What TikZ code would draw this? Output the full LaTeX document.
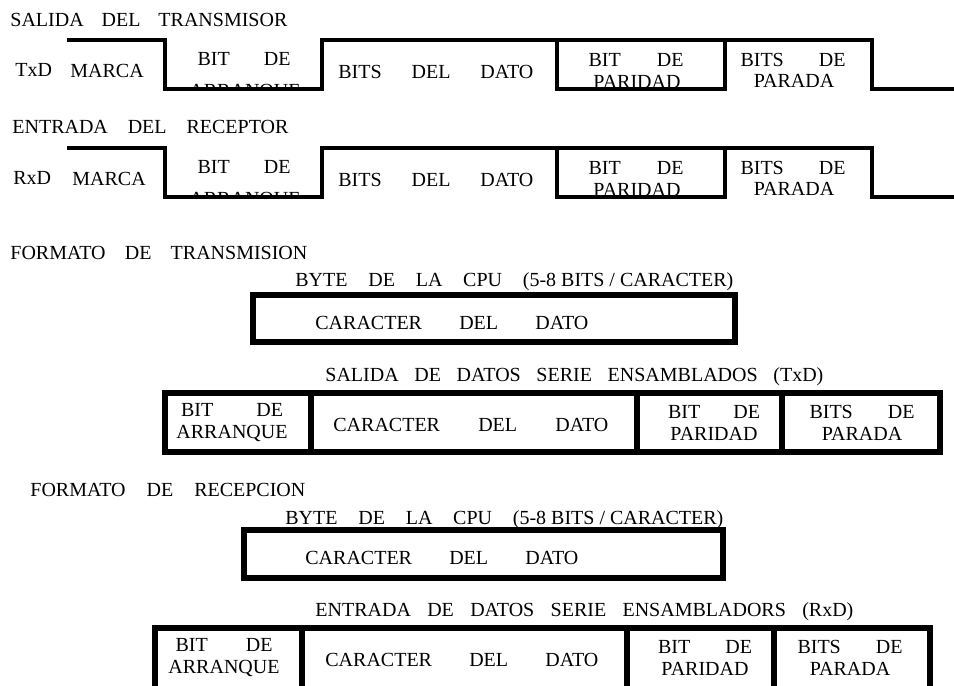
\documentclass[tikz,border=0pt]{standalone}
\usepackage{fontspec}
\setmainfont{Liberation Serif}
\usetikzlibrary{positioning}

\newlength\upx
\setlength\upx{0.5pt}
\newcommand\lbfont{\fontsize{10}{11}\selectfont}
% spread a line of words over a given width (in px)
\newcommand\wtext[2]{\makebox[#1\upx][s]{#2}}

\tikzset{
  lbl/.style={inner sep=0pt, font=\lbfont},
  wave/.style={line width=2.4pt, line join=miter},
  frame/.style={line width=2.6pt}
}

\begin{document}
\begin{tikzpicture}[x=0.5pt, y=-0.5pt]
        \useasboundingbox (0,0) rectangle (954,686);
        \clip (0,0) rectangle (954,686);

        % ---- SALIDA DEL TRANSMISOR ----
        \coordinate (T0) at (67,40);
        \coordinate (T1) at (165,40);
        \coordinate (T2) at (165,89);
        \coordinate (T3) at (322,89);
        \coordinate (T4) at (322,40);
        \coordinate (T5) at (872,40);
        \coordinate (T6) at (872,89);
        \coordinate (T7) at (954,89);
        \coordinate (TP1) at (557,40); % paridad
        \coordinate (TP2) at (725,40);

        \node[lbl, anchor=west] (ttx) at (10,20) {\wtext{277}{SALIDA DEL TRANSMISOR}};
        \node[lbl, anchor=west] (txd) at (15,70) {TxD};
        \node[lbl, anchor=west] (txmarca) at (70,71) {MARCA};
        \node[lbl] (txbit) at (244,59) {\wtext{93}{BIT DE}};
        \begin{scope}
          \clip (165,40) rectangle (322,89);
          \node[lbl] (txarr) at (245,92) {ARRANQUE};
        \end{scope}
        \node[lbl, anchor=west] (txdato) at (338,72) {\wtext{195}{BITS DEL DATO}};
        \node[lbl] (txpbit) at (636,60) {\wtext{95}{BIT DE}};
        \node[lbl] (txpar) at (637,82) {PARIDAD};
        \node[lbl] (txsbit) at (793,60) {\wtext{105}{BITS DE}};
        \node[lbl] (txstop) at (794,81) {PARADA};

        \draw[wave] (T0) -- (T1) -- (T2) -- (T3) -- (T4) -- (T5) -- (T6) -- (T7);
        \draw[wave] (TP1) -- (TP1 |- T2) -- (TP2 |- T2) -- (TP2);

        % ---- ENTRADA DEL RECEPTOR (108 px lower) ----
        \coordinate (R0) at (67,148);
        \coordinate (R1) at (165,148);
        \coordinate (R2) at (165,197);
        \coordinate (R3) at (322,197);
        \coordinate (R4) at (322,148);
        \coordinate (R5) at (872,148);
        \coordinate (R6) at (872,197);
        \coordinate (R7) at (954,197);
        \coordinate (RP1) at (557,148);
        \coordinate (RP2) at (725,148);

        \node[lbl, anchor=west] (trx) at (12,127) {\wtext{276}{ENTRADA DEL RECEPTOR}};
        \node[lbl, anchor=west] (rxd) at (13,178) {RxD};
        \node[lbl, anchor=west] (rxmarca) at (72,179) {MARCA};
        \node[lbl] (rxbit) at (244,167) {\wtext{93}{BIT DE}};
        \begin{scope}
          \clip (165,148) rectangle (322,197);
          \node[lbl] (rxarr) at (245,200) {ARRANQUE};
        \end{scope}
        \node[lbl, anchor=west] (rxdato) at (338,180) {\wtext{195}{BITS DEL DATO}};
        \node[lbl] (rxpbit) at (636,168) {\wtext{95}{BIT DE}};
        \node[lbl] (rxpar) at (637,190) {PARIDAD};
        \node[lbl] (rxsbit) at (793,168) {\wtext{105}{BITS DE}};
        \node[lbl] (rxstop) at (794,189) {PARADA};

        \draw[wave] (R0) -- (R1) -- (R2) -- (R3) -- (R4) -- (R5) -- (R6) -- (R7);
        \draw[wave] (RP1) -- (RP1 |- R2) -- (RP2 |- R2) -- (RP2);

        % ---- FORMATO DE TRANSMISION ----
        \node[lbl, anchor=west] (ftx) at (10,253) {\wtext{297}{FORMATO DE TRANSMISION}};
        \node[lbl, anchor=west] (ftxcpu) at (295,282) {\wtext{438}{BYTE DE LA CPU \mbox{(5-8 BITS / CARACTER)}}};
        \draw[frame] (253,295) rectangle (735,342);
        \node[lbl, anchor=west] (ftxcar) at (315,323) {\wtext{273}{CARACTER DEL DATO}};

        \node[lbl, anchor=west] (ftxser) at (325,377) {\wtext{498}{SALIDA DE DATOS SERIE ENSAMBLADOS (TxD)}};
        \draw[frame] (165,393) rectangle (940,452);
        \draw[frame] (311,393) -- (311,452);
        \draw[frame] (637,393) -- (637,452);
        \draw[frame] (782,393) -- (782,452);
        \node[lbl, align=center] (ftxarr) at (232,423) {\wtext{102}{BIT DE}\\ARRANQUE};
        \node[lbl, anchor=west] (ftxdat) at (333,425) {\wtext{275}{CARACTER DEL DATO}};
        \node[lbl, align=center] (ftxpar) at (714,423) {\wtext{92}{BIT DE}\\PARIDAD};
        \node[lbl, align=center] (ftxstop) at (862,423) {\wtext{105}{BITS DE}\\PARADA};

        % ---- FORMATO DE RECEPCION ----
        \node[lbl, anchor=west] (frx) at (30,490) {\wtext{275}{FORMATO DE RECEPCION}};
        \node[lbl, anchor=west] (frxcpu) at (285,520) {\wtext{438}{BYTE DE LA CPU \mbox{(5-8 BITS / CARACTER)}}};
        \draw[frame] (244,530) rectangle (723,578);
        \node[lbl, anchor=west] (frxcar) at (305,558) {\wtext{273}{CARACTER DEL DATO}};

        \node[lbl, anchor=west] (frxser) at (315,612) {\wtext{538}{ENTRADA DE DATOS SERIE ENSAMBLADORS (RxD)}};
        \draw[frame] (155,628) rectangle (930,690);
        \draw[frame] (302,628) -- (302,690);
        \draw[frame] (627,628) -- (627,690);
        \draw[frame] (774,628) -- (774,690);
        \node[lbl, align=center] (frxarr) at (224,658) {\wtext{97}{BIT DE}\\ARRANQUE};
        \node[lbl, anchor=west] (frxdat) at (325,660) {\wtext{273}{CARACTER DEL DATO}};
        \node[lbl, align=center] (frxpar) at (705,658) {\wtext{94}{BIT DE}\\PARIDAD};
        \node[lbl, align=center] (frxstop) at (850,658) {\wtext{105}{BITS DE}\\PARADA};
    \end{tikzpicture}
\end{document}
